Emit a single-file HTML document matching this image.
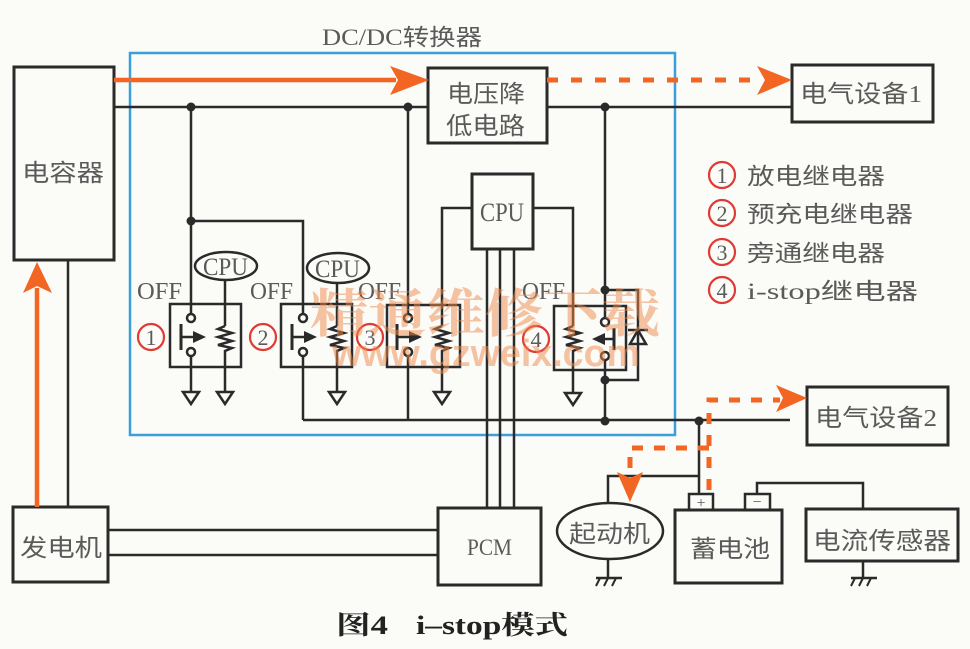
<!DOCTYPE html>
<html><head><meta charset="utf-8"><style>
html,body{margin:0;padding:0;background:#fbfbf8;}
svg{display:block;}
.cn{font-family:"Liberation Serif","Noto Sans CJK SC",sans-serif;fill:#5a5a5a;}
.lat{font-family:"Liberation Serif",serif;fill:#5a5a5a;}
</style></head><body>
<svg width="970" height="649" viewBox="0 0 970 649" xmlns="http://www.w3.org/2000/svg">
<rect width="970" height="649" fill="#fbfbf8"/>

<!-- blue DC/DC box -->
<rect x="130" y="53" width="545" height="382" fill="none" stroke="#3a9fdb" stroke-width="2.5"/>
<text x="322" y="45" class="cn" font-size="23" textLength="160" lengthAdjust="spacingAndGlyphs">DC/DC转换器</text>

<g fill="none" stroke="#2a2a2a" stroke-width="2.5">
  <!-- boxes -->
  <rect x="14" y="67" width="100" height="193" stroke-width="3"/>
  <rect x="428" y="68" width="119" height="75" stroke-width="3"/>
  <rect x="792" y="65" width="141" height="57" stroke-width="3"/>
  <rect x="472" y="174" width="61" height="75" stroke-width="3"/>
  <rect x="807" y="387" width="141" height="58" stroke-width="3"/>
  <rect x="13" y="507" width="95" height="75" stroke-width="3"/>
  <rect x="438" y="508" width="103" height="77" stroke-width="3"/>
  <rect x="675" y="510" width="107" height="73" stroke-width="3"/>
  <rect x="806" y="509" width="152" height="52" stroke-width="3"/>
  <rect x="689" y="494" width="24" height="16"/>
  <rect x="745" y="494" width="25" height="16"/>
  <ellipse cx="610" cy="531" rx="53" ry="28"/>
  <ellipse cx="226" cy="266" rx="31" ry="14"/>
  <ellipse cx="338" cy="268" rx="31" ry="15"/>

  <!-- main bus lines -->
  <line x1="114" y1="107" x2="428" y2="107"/>
  <line x1="547" y1="107" x2="792" y2="107"/>
  <line x1="68" y1="260" x2="68" y2="507"/>
  <!-- 190 branch -->
  <line x1="191" y1="107" x2="191" y2="314"/>
  <polyline points="191,221 303,221 303,314"/>
  <!-- 408 branch -->
  <line x1="408" y1="107" x2="408" y2="314"/>
  <line x1="408" y1="356" x2="408" y2="420"/>
  <!-- 606 branch -->
  <line x1="605" y1="107" x2="605" y2="318"/>
  <polyline points="605,290 638,290 638,380 605,380"/>
  <line x1="605" y1="360" x2="605" y2="421"/>
  <!-- bus bottom -->
  <line x1="303" y1="420" x2="790" y2="420"/>
  <line x1="303" y1="356" x2="303" y2="420"/>
  <!-- CPU box lines -->
  <polyline points="472,208 442,208 442,326"/>
  <polyline points="533,208 573,208 573,326"/>
  <line x1="487" y1="249" x2="487" y2="508"/>
  <line x1="500" y1="249" x2="500" y2="508"/>
  <line x1="514" y1="249" x2="514" y2="508"/>
  <!-- ellipse lines -->
  <line x1="225" y1="280" x2="225" y2="326"/>
  <line x1="337" y1="283" x2="337" y2="326"/>

  <!-- relay boxes -->
  <rect x="170" y="304" width="71" height="63"/>
  <rect x="281" y="304" width="71" height="63"/>
  <rect x="387" y="305" width="73" height="62"/>
  <rect x="554" y="306" width="72" height="64"/>

  <!-- contacts -->
  <circle cx="191" cy="318" r="4"/><circle cx="191" cy="352" r="4"/>
  <circle cx="303" cy="318" r="4"/><circle cx="303" cy="352" r="4"/>
  <circle cx="408" cy="318" r="4"/><circle cx="408" cy="352" r="4"/>
  <circle cx="605" cy="322" r="4"/><circle cx="605" cy="356" r="4"/>
  <line x1="191" y1="356" x2="191" y2="392"/>

  <!-- switch bars -->
  <line x1="181" y1="324" x2="181" y2="350" stroke-width="3"/>
  <line x1="181" y1="337" x2="194" y2="337"/>
  <line x1="292" y1="324" x2="292" y2="350" stroke-width="3"/>
  <line x1="292" y1="337" x2="305" y2="337"/>
  <line x1="397" y1="324" x2="397" y2="350" stroke-width="3"/>
  <line x1="397" y1="337" x2="410" y2="337"/>
  <line x1="614" y1="328" x2="614" y2="350" stroke-width="3"/>
  <line x1="603" y1="339" x2="614" y2="339"/>

  <!-- resistors -->
  <polyline points="225,326 218,329 232,333 218,337 232,341 218,345 232,348 225,351 225,392"/>
  <polyline points="337,326 330,329 344,333 330,337 344,341 330,345 344,348 337,351 337,392"/>
  <polyline points="442,326 435,329 449,333 435,337 449,341 435,345 449,348 442,351 442,392"/>
  <polyline points="573,326 566,329 580,333 566,337 580,341 566,345 580,348 573,351 573,392"/>

  <!-- ground triangles -->
  <polygon points="183,392 199,392 191,404"/>
  <polygon points="217,392 233,392 225,404"/>
  <polygon points="329,392 345,392 337,404"/>
  <polygon points="434,392 450,392 442,404"/>
  <polygon points="565,393 581,393 573,405"/>

  <!-- diode -->
  <polygon points="638,330 646,344 630,344"/>
  <line x1="628" y1="330" x2="648" y2="330"/>

  <!-- generator to PCM -->
  <line x1="108" y1="530" x2="438" y2="530"/>
  <line x1="108" y1="555" x2="438" y2="555"/>

  <!-- battery wiring -->
  <line x1="699" y1="421" x2="699" y2="494"/>
  <polyline points="699,476 608,476 608,503"/>
  <polyline points="757,494 757,483 863,483 863,509"/>
  <line x1="608" y1="559" x2="608" y2="578"/>
  <line x1="863" y1="561" x2="863" y2="578"/>
  <line x1="596" y1="578" x2="622" y2="578"/>
  <line x1="851" y1="578" x2="877" y2="578"/>
</g>
<g stroke="#2a2a2a" stroke-width="2">
  <line x1="600" y1="578" x2="596" y2="586"/><line x1="608" y1="578" x2="604" y2="586"/><line x1="616" y1="578" x2="612" y2="586"/>
  <line x1="855" y1="578" x2="851" y2="586"/><line x1="863" y1="578" x2="859" y2="586"/><line x1="871" y1="578" x2="867" y2="586"/>
</g>

<!-- arrows in relays -->
<g fill="#2a2a2a">
  <polygon points="193,331 206,337 193,343"/>
  <polygon points="304,331 317,337 304,343"/>
  <polygon points="409,331 422,337 409,343"/>
  <polygon points="605,333 592,339 605,345"/>
  <!-- junction dots -->
  <circle cx="191" cy="107" r="4.5"/>
  <circle cx="408" cy="107" r="4.5"/>
  <circle cx="605" cy="107" r="4.5"/>
  <circle cx="191" cy="221" r="4.5"/>
  <circle cx="605" cy="290" r="4.5"/>
  <circle cx="605" cy="380" r="4.5"/>
  <circle cx="605" cy="421" r="4.5"/>
  <circle cx="699" cy="421" r="4.5"/>
</g>

<!-- orange arrows -->
<g stroke="#f26522" fill="none">
  <line x1="114" y1="80" x2="396" y2="80" stroke-width="4.5"/>
  <line x1="37" y1="507" x2="37" y2="288" stroke-width="4.5"/>
  <line x1="547" y1="80" x2="762" y2="80" stroke-width="5" stroke-dasharray="11 13"/>
  <polyline points="709,490 709,400 780,400" stroke-width="5" stroke-dasharray="11 11"/>
  <polyline points="709,448 630,448 630,476" stroke-width="5" stroke-dasharray="11 11"/>
</g>
<g fill="#f26522">
  <polygon points="390,66 429,80 390,95 398,80"/>
  <polygon points="23,293 37,262 52,293 37,286"/>
  <polygon points="757,66 792,80 757,95 765,80"/>
  <polygon points="776,385 807,398 776,412 783,398"/>
  <polygon points="617,472 630,502 643,472 630,478"/>
</g>

<!-- red numbered circles -->
<g fill="none" stroke="#e03a35" stroke-width="2.2">
  <circle cx="151" cy="337" r="13"/>
  <circle cx="263" cy="337" r="13"/>
  <circle cx="370" cy="337" r="13"/>
  <circle cx="536" cy="339" r="13"/>
  <circle cx="722" cy="175" r="13"/>
  <circle cx="722" cy="213" r="13"/>
  <circle cx="722" cy="252" r="13"/>
  <circle cx="722" cy="290" r="13"/>
</g>
<g class="lat" font-size="22" text-anchor="middle">
  <text x="151" y="345">1</text><text x="263" y="345">2</text><text x="370" y="345">3</text><text x="536" y="347">4</text>
  <text x="722" y="183">1</text><text x="722" y="221">2</text><text x="722" y="260">3</text><text x="722" y="298">4</text>
</g>

<!-- latin labels -->
<g class="lat">
  <text x="137" y="299" font-size="24" textLength="45" lengthAdjust="spacingAndGlyphs">OFF</text>
  <text x="250" y="299" font-size="24" textLength="43" lengthAdjust="spacingAndGlyphs">OFF</text>
  <text x="358" y="299" font-size="24" textLength="43" lengthAdjust="spacingAndGlyphs">OFF</text>
  <text x="522" y="299" font-size="24" textLength="43" lengthAdjust="spacingAndGlyphs">OFF</text>
  <text x="203" y="275" font-size="25" textLength="45" lengthAdjust="spacingAndGlyphs">CPU</text>
  <text x="315" y="277" font-size="25" textLength="45" lengthAdjust="spacingAndGlyphs">CPU</text>
  <text x="480" y="221" font-size="26" textLength="44" lengthAdjust="spacingAndGlyphs">CPU</text>
  <text x="467" y="555" font-size="23" textLength="45" lengthAdjust="spacingAndGlyphs">PCM</text>
  <text x="701" y="508" font-size="16" text-anchor="middle">+</text>
  <text x="757" y="507" font-size="16" text-anchor="middle">−</text>
</g>

<!-- chinese labels -->
<g class="cn" font-size="24">
  <text x="22" y="181" textLength="82" lengthAdjust="spacingAndGlyphs">电容器</text>
  <text x="447" y="102" textLength="78" lengthAdjust="spacingAndGlyphs">电压降</text>
  <text x="446" y="134" textLength="79" lengthAdjust="spacingAndGlyphs">低电路</text>
  <text x="800" y="102" textLength="122" lengthAdjust="spacingAndGlyphs">电气设备1</text>
  <text x="815" y="426" textLength="122" lengthAdjust="spacingAndGlyphs">电气设备2</text>
  <text x="569" y="542" textLength="81" lengthAdjust="spacingAndGlyphs">起动机</text>
  <text x="690" y="557" textLength="80" lengthAdjust="spacingAndGlyphs">蓄电池</text>
  <text x="813" y="549" textLength="138" lengthAdjust="spacingAndGlyphs">电流传感器</text>
  <text x="20" y="556" textLength="82" lengthAdjust="spacingAndGlyphs">发电机</text>
  <text x="747" y="184" font-size="23" textLength="138" lengthAdjust="spacingAndGlyphs">放电继电器</text>
  <text x="747" y="222" font-size="23" textLength="166" lengthAdjust="spacingAndGlyphs">预充电继电器</text>
  <text x="747" y="261" font-size="23" textLength="138" lengthAdjust="spacingAndGlyphs">旁通继电器</text>
  <text x="747" y="299" font-size="23" textLength="171" lengthAdjust="spacingAndGlyphs">i-stop继电器</text>
</g>

<!-- watermark -->
<g fill="#f08a4a" fill-opacity="0.5" font-weight="bold">
  <text x="310" y="332" font-size="52" font-family="'Liberation Serif','Noto Serif CJK SC',serif" textLength="350" lengthAdjust="spacingAndGlyphs">精通维修下载</text>
  <text x="332" y="366" font-size="38" font-family="'Liberation Sans',sans-serif" textLength="308" lengthAdjust="spacingAndGlyphs">www.gzweix.com</text>
</g>

<!-- caption -->
<g font-weight="bold" fill="#222" font-size="26" font-family="'Liberation Serif','Noto Serif CJK SC',serif">
  <text x="336" y="634" textLength="52" lengthAdjust="spacingAndGlyphs">图4</text>
  <text x="416" y="634" textLength="152" lengthAdjust="spacingAndGlyphs">i–stop模式</text>
</g>
</svg>
</body></html>
